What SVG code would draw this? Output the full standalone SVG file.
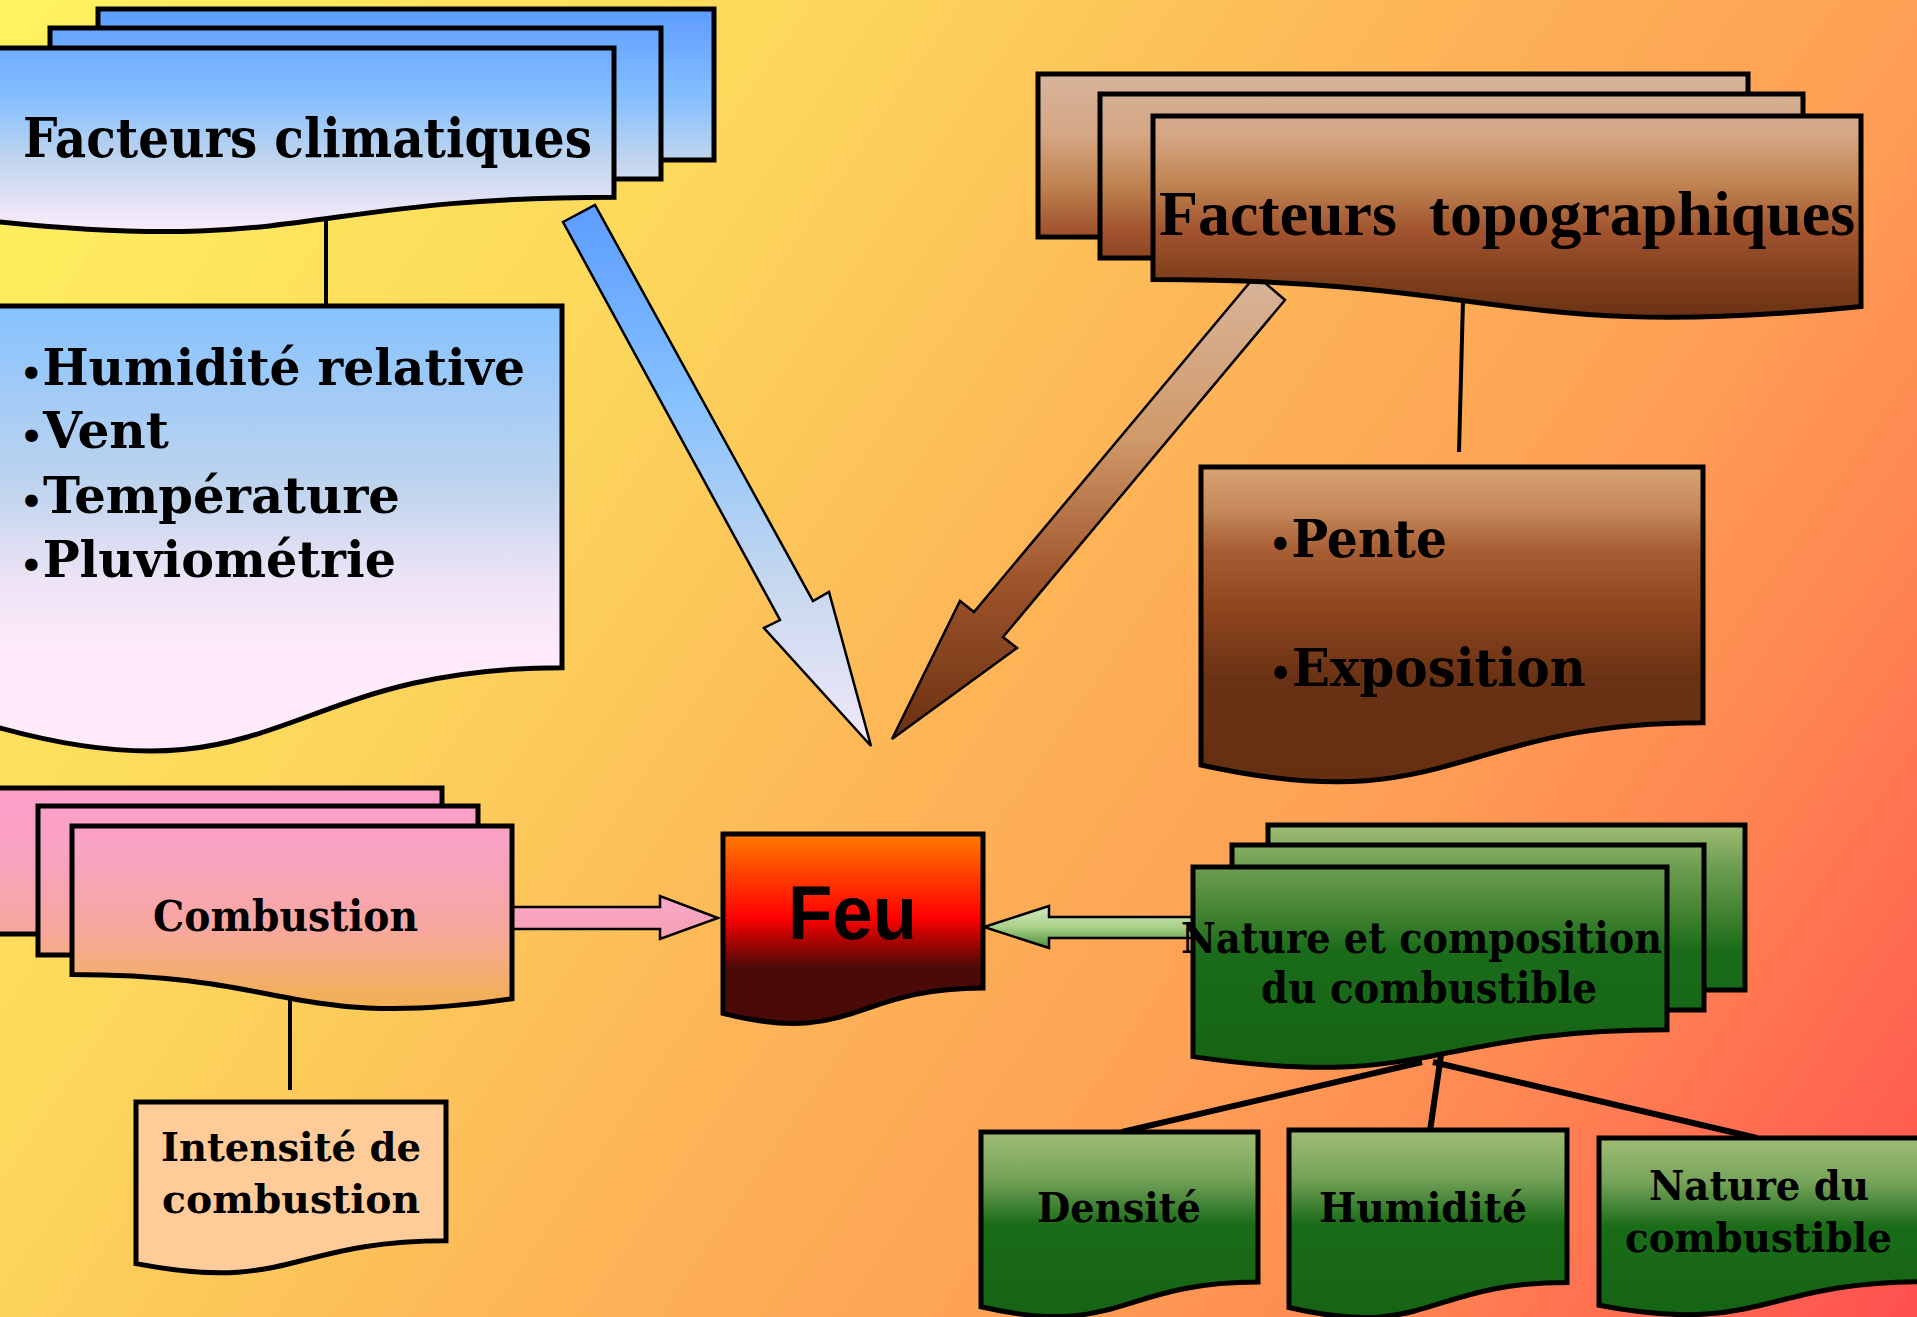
<svg xmlns="http://www.w3.org/2000/svg" width="1917" height="1317" viewBox="0 0 1917 1317">
<style>
.card{stroke:#000;stroke-width:5;stroke-linejoin:miter}
.arrow{stroke:#000;stroke-width:2.5;stroke-linejoin:miter}
.ln{stroke:#000;stroke-width:4;fill:none}
.ln2{stroke:#000;stroke-width:6;fill:none}
.t{font-family:"DejaVu Serif","Liberation Serif",serif;font-weight:bold;fill:#000}
.tt{font-family:"Liberation Serif","Times New Roman",serif;font-weight:bold;fill:#000}
.ts{font-family:"Liberation Sans",Arial,sans-serif;font-weight:bold;fill:#000}
.b{font-size:0.72em}
</style>
<defs>
<linearGradient id="bg" gradientUnits="userSpaceOnUse" x1="0" y1="0" x2="1917" y2="1317">
<stop offset="0" stop-color="#FFF35F"/><stop offset="0.3" stop-color="#FCD65B"/><stop offset="0.5" stop-color="#FDB657"/><stop offset="0.68" stop-color="#FEA055"/><stop offset="0.8" stop-color="#FF8852"/><stop offset="1" stop-color="#FF5050"/>
</linearGradient>
<linearGradient id="gBlue" gradientUnits="userSpaceOnUse" x1="0" y1="9" x2="0" y2="236">
<stop offset="0" stop-color="#5C9CFF"/><stop offset="0.4" stop-color="#86C0FF"/><stop offset="0.65" stop-color="#BED4EE"/><stop offset="1" stop-color="#FFEEFC"/>
</linearGradient>
<linearGradient id="gBlueBox" gradientUnits="userSpaceOnUse" x1="0" y1="306" x2="0" y2="753">
<stop offset="0" stop-color="#86C2FF"/><stop offset="0.4" stop-color="#BED4EE"/><stop offset="0.62" stop-color="#EEE4F6"/><stop offset="0.78" stop-color="#FFEAFA"/><stop offset="1" stop-color="#FFEAFA"/>
</linearGradient>
<linearGradient id="gBlueArrow" gradientUnits="userSpaceOnUse" x1="0" y1="205" x2="0" y2="746">
<stop offset="0" stop-color="#5C9CFF"/><stop offset="0.35" stop-color="#84C0FF"/><stop offset="0.7" stop-color="#C6D8EE"/><stop offset="1" stop-color="#F2E8FA"/>
</linearGradient>
<linearGradient id="gBrown" gradientUnits="userSpaceOnUse" x1="0" y1="74" x2="0" y2="318">
<stop offset="0" stop-color="#D8B49C"/><stop offset="0.25" stop-color="#D5A684"/><stop offset="0.45" stop-color="#C08452"/><stop offset="0.65" stop-color="#A0522D"/><stop offset="0.85" stop-color="#7E3E1C"/><stop offset="1" stop-color="#6A3212"/>
</linearGradient>
<linearGradient id="gBrownBox" gradientUnits="userSpaceOnUse" x1="0" y1="467" x2="0" y2="783">
<stop offset="0" stop-color="#D8A272"/><stop offset="0.14" stop-color="#C4885A"/><stop offset="0.26" stop-color="#A85E34"/><stop offset="0.42" stop-color="#94481F"/><stop offset="0.67" stop-color="#6A3214"/><stop offset="1" stop-color="#652F12"/>
</linearGradient>
<linearGradient id="gBrownArrow" gradientUnits="userSpaceOnUse" x1="0" y1="275" x2="0" y2="739">
<stop offset="0" stop-color="#D8B49A"/><stop offset="0.35" stop-color="#D09A6A"/><stop offset="0.65" stop-color="#A0552D"/><stop offset="1" stop-color="#6A3010"/>
</linearGradient>
<linearGradient id="gPink" gradientUnits="userSpaceOnUse" x1="0" y1="788" x2="0" y2="1031">
<stop offset="0" stop-color="#FBA0CC"/><stop offset="0.3" stop-color="#F9A2C0"/><stop offset="0.6" stop-color="#F7A89A"/><stop offset="0.9" stop-color="#F3B050"/><stop offset="1" stop-color="#F3B24C"/>
</linearGradient>
<linearGradient id="gPinkArrow" gradientUnits="userSpaceOnUse" x1="0" y1="896" x2="0" y2="939">
<stop offset="0" stop-color="#F9A8C8"/><stop offset="1" stop-color="#F6A0B4"/>
</linearGradient>
<linearGradient id="gFeu" gradientUnits="userSpaceOnUse" x1="0" y1="834" x2="0" y2="1020">
<stop offset="0" stop-color="#FF7C00"/><stop offset="0.45" stop-color="#FF0000"/><stop offset="0.72" stop-color="#4A0A08"/><stop offset="1" stop-color="#4A0A08"/>
</linearGradient>
<linearGradient id="gGreen" gradientUnits="userSpaceOnUse" x1="0" y1="825" x2="0" y2="1068">
<stop offset="0" stop-color="#A0BC74"/><stop offset="0.17" stop-color="#6E9E52"/><stop offset="0.35" stop-color="#468434"/><stop offset="0.52" stop-color="#1A6C1A"/><stop offset="1" stop-color="#146414"/>
</linearGradient>
<linearGradient id="gGreenChild" x1="0" y1="0" x2="0" y2="1">
<stop offset="0" stop-color="#A0BD75"/><stop offset="0.25" stop-color="#76A35A"/><stop offset="0.5" stop-color="#1B6C19"/><stop offset="1" stop-color="#146414"/>
</linearGradient>
<linearGradient id="gGreenArrow" gradientUnits="userSpaceOnUse" x1="0" y1="906" x2="0" y2="948">
<stop offset="0" stop-color="#D8ECC4"/><stop offset="0.5" stop-color="#A8D08A"/><stop offset="1" stop-color="#4E8E3A"/>
</linearGradient>
</defs>

<rect x="0" y="0" width="1917" height="1317" fill="url(#bg)"/>

<g id="connectors">
<polygon class="arrow" fill="url(#gBlueArrow)" points="563,222 595,205 813,601 829,592 871,746 764,628 780,620"/>
<polygon class="arrow" fill="url(#gBrownArrow)" points="1256,275 1285,300 1003,637 1017,648 892,739 960,601 974,612"/>
<polygon class="arrow" stroke-width="3" fill="url(#gPinkArrow)" points="512,907 660,907 660,896 718,918 660,939 660,929 512,929"/>
<polygon class="arrow" fill="url(#gGreenArrow)" points="984,927 1049,906 1049,917 1195,917 1195,938 1049,938 1049,948"/>
<line class="ln" x1="326" y1="220" x2="326" y2="306"/>
<line class="ln" x1="1463" y1="300" x2="1459" y2="452"/>
<line class="ln" x1="290" y1="1000" x2="290" y2="1090"/>
<line class="ln2" x1="1422" y1="1062" x2="1122" y2="1132"/>
<line class="ln2" x1="1441" y1="1055" x2="1430" y2="1131"/>
<line class="ln2" x1="1433" y1="1062" x2="1757" y2="1138"/>
</g>

<g id="node-facteurs-climatiques">
<rect class="card" fill="url(#gBlue)" x="98" y="9" width="616" height="151"/>
<rect class="card" fill="url(#gBlue)" x="50" y="28" width="611" height="151"/>
<path class="card" fill="url(#gBlue)" d="M -3,48 H 614 V 197.2 C 305.5,197.2 305.5,253.9 -3,221.7 Z"/>
<text class="t" x="23" y="157" font-size="55" textLength="569" lengthAdjust="spacingAndGlyphs">Facteurs climatiques</text>
</g>

<g id="node-climat-details">
<path class="card" fill="url(#gBlueBox)" d="M -3,306 H 562 V 667.7 C 279.5,667.7 279.5,805.3 -3,727.2 Z"/>
<text class="t" x="20" y="385" font-size="50" textLength="505" lengthAdjust="spacingAndGlyphs"><tspan class="b">•</tspan>Humidité relative</text>
<text class="t" x="20" y="448" font-size="50" textLength="149" lengthAdjust="spacingAndGlyphs"><tspan class="b">•</tspan>Vent</text>
<text class="t" x="20" y="513" font-size="50" textLength="380" lengthAdjust="spacingAndGlyphs"><tspan class="b">•</tspan>Température</text>
<text class="t" x="20" y="577" font-size="50" textLength="376" lengthAdjust="spacingAndGlyphs"><tspan class="b">•</tspan>Pluviométrie</text>
</g>

<g id="node-facteurs-topographiques">
<rect class="card" fill="url(#gBrown)" x="1038" y="74" width="710" height="163"/>
<rect class="card" fill="url(#gBrown)" x="1100" y="94" width="703" height="164"/>
<path class="card" fill="url(#gBrown)" d="M 1153,116 H 1861 V 306.5 C 1507,341.8 1507,279.6 1153,279.6 Z"/>
<text class="tt" x="1159" y="235" font-size="64" textLength="696" lengthAdjust="spacingAndGlyphs" xml:space="preserve">Facteurs  topographiques</text>
</g>

<g id="node-topo-details">
<path class="card" fill="url(#gBrownBox)" d="M 1201,467 H 1703 V 722.8 C 1452,722.8 1452,820.1 1201,765 Z"/>
<text class="t" x="1269" y="557" font-size="53" textLength="178" lengthAdjust="spacingAndGlyphs"><tspan class="b">•</tspan>Pente</text>
<text class="t" x="1269" y="686" font-size="53" textLength="317" lengthAdjust="spacingAndGlyphs"><tspan class="b">•</tspan>Exposition</text>
</g>

<g id="node-combustion">
<rect class="card" fill="url(#gPink)" x="-3" y="788" width="445" height="146"/>
<rect class="card" fill="url(#gPink)" x="38" y="806" width="440" height="149"/>
<path class="card" fill="url(#gPink)" d="M 72,826 H 512 V 998.8 C 292,1030.8 292,974.4 72,974.4 Z"/>
<text class="t" x="153" y="931" font-size="43" textLength="265" lengthAdjust="spacingAndGlyphs">Combustion</text>
</g>

<g id="node-intensite">
<path class="card" fill="#FFCC99" d="M 136,1102 H 446 V 1240.7 C 291,1240.7 291,1293.5 136,1263.6 Z"/>
<text class="t" x="161" y="1161" font-size="40" textLength="260" lengthAdjust="spacingAndGlyphs">Intensité de</text>
<text class="t" x="162" y="1213" font-size="40" textLength="258" lengthAdjust="spacingAndGlyphs">combustion</text>
</g>

<g id="node-feu">
<path class="card" stroke-width="7" fill="url(#gFeu)" d="M 723,834 H 983 V 988 C 853,988 853,1046.5 723,1013.3 Z"/>
<text class="ts" x="788" y="939" font-size="76" textLength="129" lengthAdjust="spacingAndGlyphs">Feu</text>
</g>

<g id="node-nature-composition">
<rect class="card" fill="url(#gGreen)" x="1268" y="825" width="477" height="165"/>
<rect class="card" fill="url(#gGreen)" x="1232" y="845" width="472" height="165"/>
<path class="card" fill="url(#gGreen)" d="M 1193,867 H 1667 V 1029.8 C 1430,1029.8 1430,1091.7 1193,1056.6 Z"/>
<text class="t" x="1181" y="953" font-size="42" textLength="481" lengthAdjust="spacingAndGlyphs">Nature et composition</text>
<text class="t" x="1261" y="1003" font-size="42" textLength="336" lengthAdjust="spacingAndGlyphs">du combustible</text>
</g>

<g id="node-densite">
<path class="card" stroke-width="6" fill="url(#gGreenChild)" d="M 981,1132 H 1258 V 1282 C 1119.5,1282 1119.5,1339 981,1306.7 Z"/>
<text class="t" x="1037" y="1222" font-size="41" textLength="164" lengthAdjust="spacingAndGlyphs">Densité</text>
</g>

<g id="node-humidite">
<path class="card" stroke-width="6" fill="url(#gGreenChild)" d="M 1289,1130 H 1567 V 1282.4 C 1428,1282.4 1428,1340.3 1289,1307.5 Z"/>
<text class="t" x="1319" y="1222" font-size="41" textLength="208" lengthAdjust="spacingAndGlyphs">Humidité</text>
</g>

<g id="node-nature-combustible">
<path class="card" stroke-width="6" fill="url(#gGreenChild)" d="M 1599,1138 H 1925 V 1281.6 C 1762,1281.6 1762,1336.2 1599,1305.2 Z"/>
<text class="t" x="1649" y="1200" font-size="41" textLength="220" lengthAdjust="spacingAndGlyphs">Nature du</text>
<text class="t" x="1625" y="1252" font-size="41" textLength="267" lengthAdjust="spacingAndGlyphs">combustible</text>
</g>
</svg>
